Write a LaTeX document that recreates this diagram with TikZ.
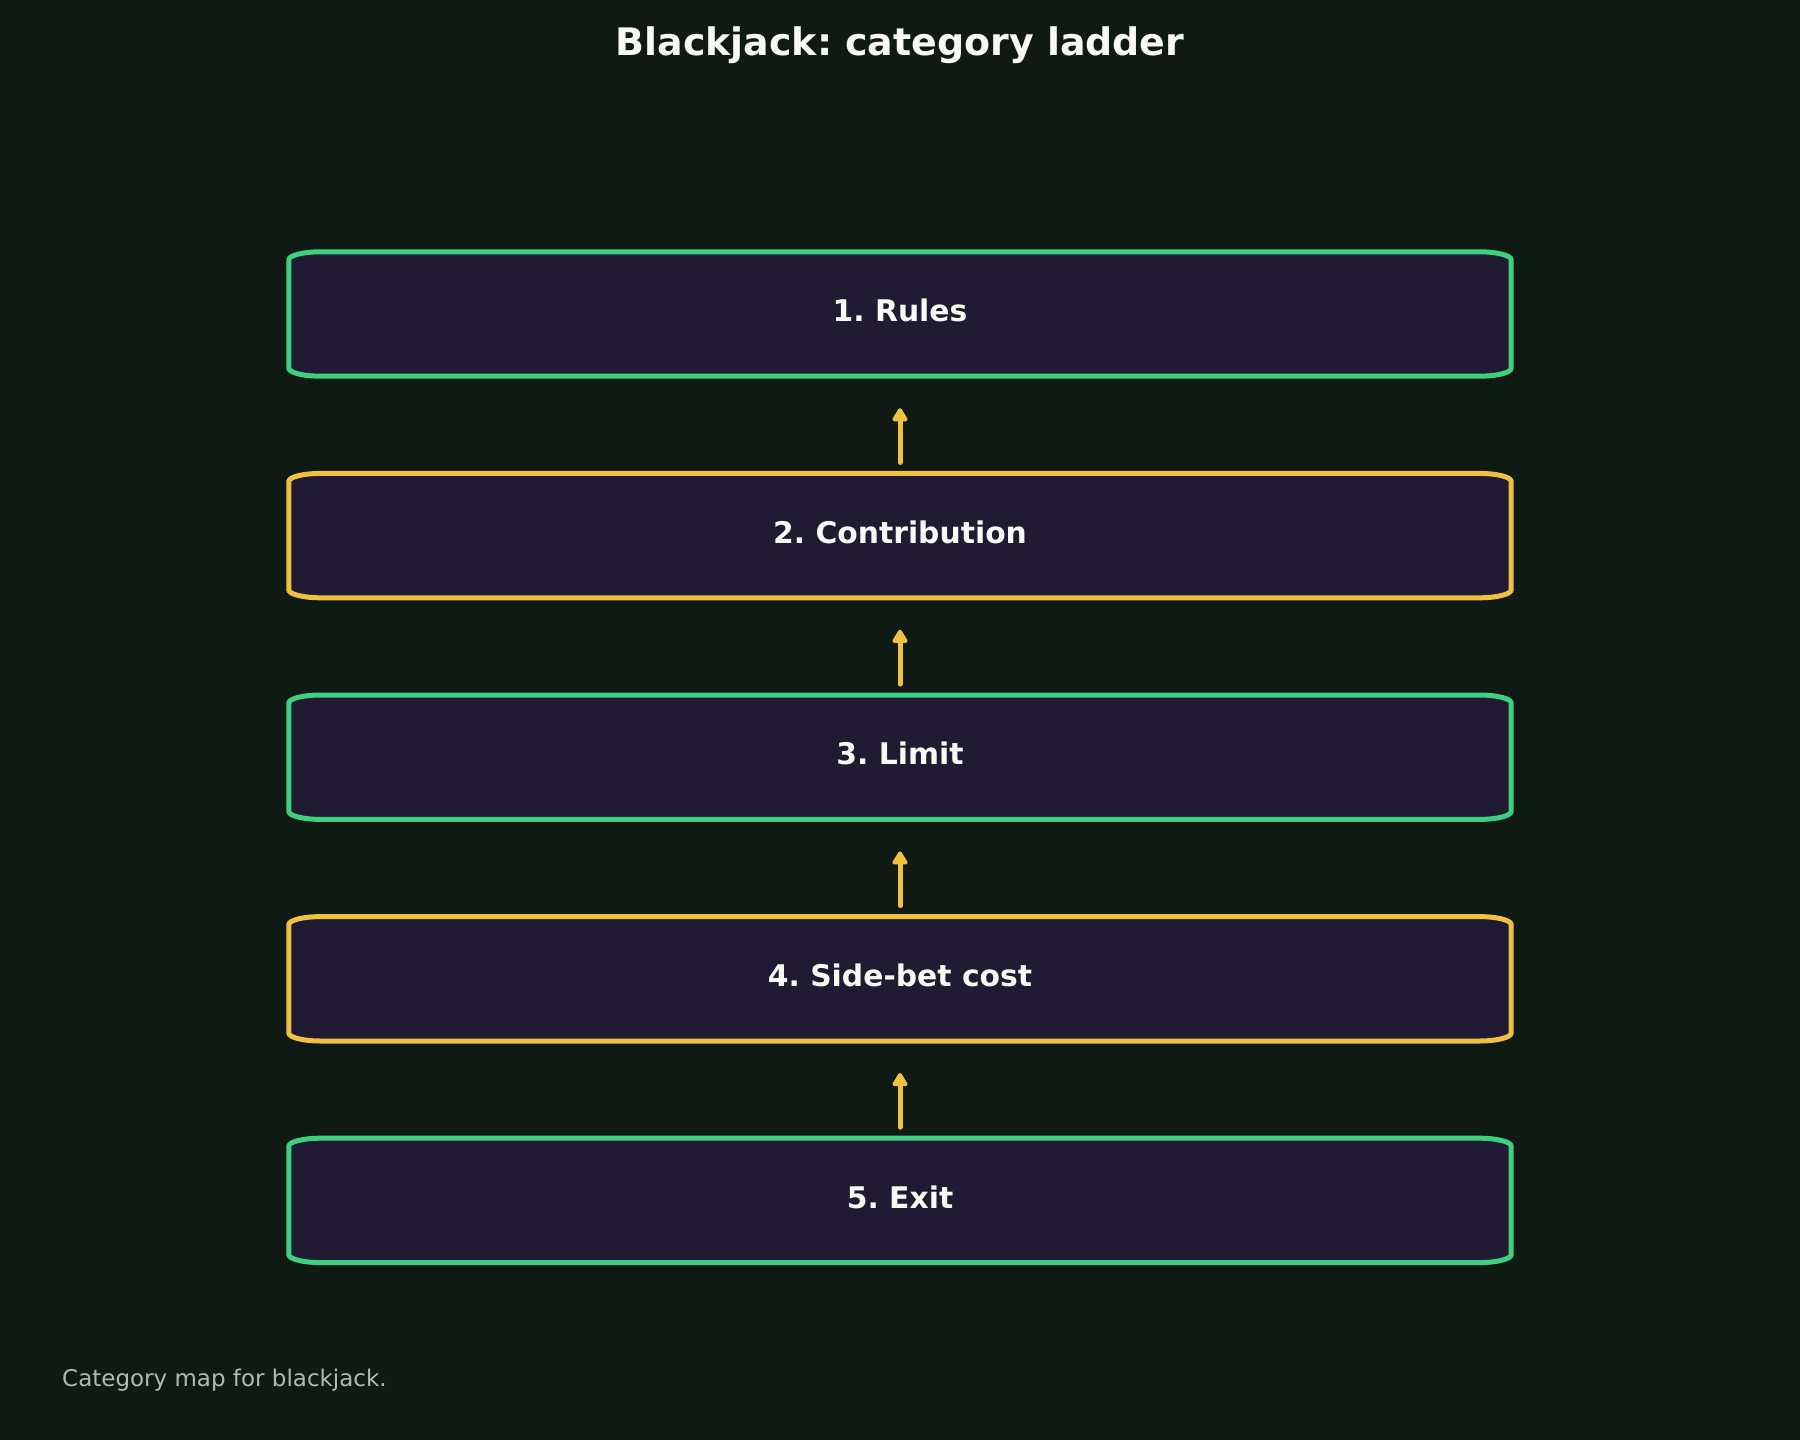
\documentclass[tikz,border=0pt]{standalone}
\usepackage{fontspec}
\setmainfont{DejaVu Sans}
\usetikzlibrary{arrows.meta}
\frenchspacing
\definecolor{bgcol}{HTML}{101A14}
\definecolor{boxfill}{HTML}{211A33}
\definecolor{grn}{HTML}{3ECF7F}
\definecolor{ylw}{HTML}{F0C040}
\definecolor{txt}{HTML}{F8F8F4}
\definecolor{capcol}{HTML}{A8BFAE}
\tikzset{
  ladderbox/.style={rectangle, inner sep=0pt, minimum width=1222pt, minimum height=124pt,
    text=txt, font=\fontsize{29.8pt}{34pt}\selectfont\bfseries, text height=21.7pt, text depth=6.3pt},
  boxline/.style={line width=5pt, fill=boxfill, line join=round},
  uparrow/.style={draw=ylw, line width=5pt, line cap=round,
    -{Triangle[length=15pt,width=17pt,round]}, shorten <=11pt, shorten >=32pt},
}
\begin{document}
\begin{tikzpicture}[x=1pt, y=-1pt]
\fill[bgcol] (0,0) rectangle (1800,1440);
\useasboundingbox (0,0) rectangle (1800,1440);
\node[anchor=base, text=txt, font=\fontsize{37.9pt}{44pt}\selectfont\bfseries] (title) at (900,55) {Blackjack: category ladder};
\foreach \i/\lab/\col in {1/1. Rules/grn, 2/2. Contribution/ylw, 3/3. Limit/grn, 4/4. Side-bet cost/ylw, 5/5. Exit/grn}{
  \node[ladderbox] (b\i) at (900, {314 + (\i-1)*221.6}) {};
  \draw[boxline, draw=\col]
    ([xshift=32pt]b\i.north west) -- ([xshift=-32pt]b\i.north east)
    arc[start angle=90, end angle=0, x radius=32pt, y radius=8pt]
    -- ([yshift=8pt]b\i.south east)
    arc[start angle=0, end angle=-90, x radius=32pt, y radius=8pt]
    -- ([xshift=32pt]b\i.south west)
    arc[start angle=-90, end angle=-180, x radius=32pt, y radius=8pt]
    -- ([yshift=-8pt]b\i.north west)
    arc[start angle=180, end angle=90, x radius=32pt, y radius=8pt]
    -- cycle;
  \node[ladderbox] (l\i) at (b\i.center) {\lab};
}
\draw[uparrow] (b2.north) -- (b1.south);
\draw[uparrow] (b3.north) -- (b2.south);
\draw[uparrow] (b4.north) -- (b3.south);
\draw[uparrow] (b5.north) -- (b4.south);
\node[anchor=base west, inner sep=0pt, text=capcol, font=\fontsize{23pt}{27pt}\selectfont] (cap) at (62,1386) {Category map for blackjack.};
\end{tikzpicture}
\end{document}
